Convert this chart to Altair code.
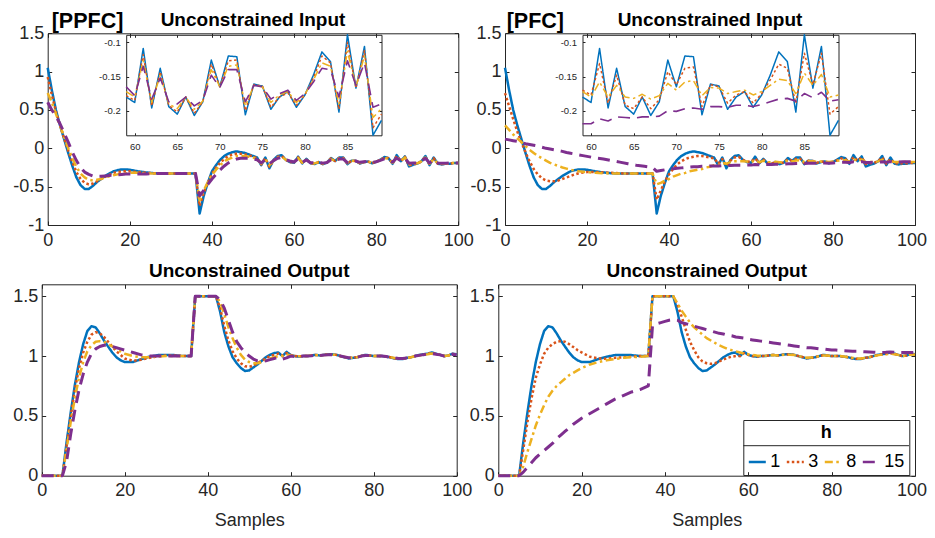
import altair as alt
import pandas as pd

# ---------------- data ----------------
# sample positions shared by every series
X = list(range(0, 21)) + list(range(22, 37, 2)) + list(range(37, 101))
H_LABELS = ["1", "3", "8", "15"]
COLORS = ["#0072BD", "#D95319", "#EDB120", "#7E2F8E"]
DASHES = [[1, 0], [2.5, 2.5], [8, 3.5, 2.5, 3.5], [12, 7]]

X_TICKS = [0, 20, 40, 60, 80, 100]
Y_TICKS_IN = [-1, -0.5, 0, 0.5, 1, 1.5]
Y_TICKS_OUT = [0, 0.5, 1, 1.5]
INSET_X_TICKS = [60, 65, 70, 75, 80, 85]
INSET_Y_TICKS = [-0.2, -0.15, -0.1]

# ---- Unconstrained input ----
IN_H1 = [1.05, 0.76, 0.5, 0.3, 0.12, -0.06, -0.23, -0.38, -0.48, -0.53, -0.53, -0.49, -0.44, -0.4, -0.36, -0.33, -0.3, -0.285, -0.275, -0.275, -0.28,
         -0.3, -0.315, -0.325, -0.33, -0.33, -0.33, -0.33, -0.33,
         -0.85, -0.62, -0.45, -0.3, -0.22, -0.15, -0.1, -0.07, -0.05, -0.04, -0.05, -0.06, -0.08, -0.1, -0.12, -0.22, -0.12, -0.26, -0.15, -0.1, -0.09, -0.15,
         -0.18, -0.188, -0.109, -0.196, -0.138, -0.194, -0.205, -0.18, -0.207, -0.187, -0.126, -0.165, -0.12, -0.121, -0.206, -0.161, -0.164, -0.198, -0.18, -0.172,
         -0.195, -0.177, -0.148, -0.114, -0.128, -0.202, -0.089, -0.167, -0.106, -0.236, -0.214,
         -0.2, -0.17, -0.1, -0.22, -0.12, -0.2, -0.21, -0.2, -0.2, -0.19, -0.19]

PPFC_IN_H3 = [0.93, 0.7, 0.48, 0.3, 0.13, -0.03, -0.18, -0.31, -0.4, -0.45, -0.47, -0.46, -0.43, -0.4, -0.37, -0.345, -0.32, -0.31, -0.3, -0.3, -0.3,
              -0.31, -0.32, -0.325, -0.33, -0.33, -0.33, -0.33, -0.33,
              -0.75, -0.58, -0.45, -0.33, -0.25, -0.19, -0.14, -0.1, -0.08, -0.07, -0.07, -0.08, -0.09, -0.11, -0.13, -0.21, -0.13, -0.24, -0.16, -0.11, -0.1, -0.15,
              -0.178, -0.185, -0.118, -0.193, -0.143, -0.192, -0.202, -0.18, -0.204, -0.187, -0.132, -0.165, -0.127, -0.126, -0.2, -0.162, -0.164, -0.195, -0.18, -0.174,
              -0.192, -0.177, -0.152, -0.12, -0.13, -0.198, -0.1, -0.167, -0.112, -0.225, -0.205,
              -0.2, -0.17, -0.11, -0.21, -0.13, -0.2, -0.205, -0.2, -0.2, -0.19, -0.19]

PPFC_IN_H8 = [0.72, 0.6, 0.45, 0.3, 0.15, 0.0, -0.13, -0.24, -0.33, -0.38, -0.41, -0.42, -0.41, -0.4, -0.38, -0.365, -0.35, -0.34, -0.33, -0.325, -0.32,
              -0.32, -0.325, -0.33, -0.33, -0.33, -0.33, -0.33, -0.33,
              -0.68, -0.55, -0.44, -0.35, -0.28, -0.22, -0.17, -0.14, -0.12, -0.1, -0.1, -0.1, -0.11, -0.12, -0.14, -0.2, -0.14, -0.22, -0.16, -0.12, -0.11, -0.15,
              -0.172, -0.18, -0.127, -0.188, -0.148, -0.19, -0.197, -0.18, -0.198, -0.186, -0.14, -0.165, -0.135, -0.133, -0.193, -0.163, -0.165, -0.188, -0.177, -0.172,
              -0.188, -0.176, -0.155, -0.13, -0.135, -0.19, -0.113, -0.165, -0.12, -0.21, -0.197,
              -0.195, -0.17, -0.12, -0.2, -0.14, -0.195, -0.2, -0.2, -0.195, -0.19, -0.19]

PPFC_IN_H15 = [0.6, 0.5, 0.42, 0.32, 0.2, 0.08, -0.05, -0.16, -0.25, -0.31, -0.34, -0.36, -0.365, -0.365, -0.36, -0.355, -0.35, -0.345, -0.34, -0.335, -0.335,
               -0.335, -0.335, -0.33, -0.33, -0.33, -0.33, -0.33, -0.33,
               -0.62, -0.55, -0.47, -0.4, -0.34, -0.28, -0.23, -0.19, -0.16, -0.14, -0.13, -0.13, -0.13, -0.14, -0.15, -0.19, -0.15, -0.2, -0.16, -0.13, -0.12, -0.15,
               -0.165, -0.178, -0.135, -0.183, -0.152, -0.187, -0.19, -0.18, -0.193, -0.185, -0.148, -0.166, -0.14, -0.14, -0.187, -0.163, -0.165, -0.183, -0.175, -0.17,
               -0.185, -0.175, -0.158, -0.138, -0.14, -0.18, -0.127, -0.163, -0.13, -0.195, -0.19,
               -0.19, -0.17, -0.13, -0.19, -0.15, -0.19, -0.195, -0.195, -0.19, -0.19, -0.19]

PFC_IN_H3 = [0.72, 0.55, 0.38, 0.22, 0.08, -0.05, -0.17, -0.27, -0.34, -0.39, -0.42, -0.43, -0.43, -0.42, -0.4, -0.38, -0.36, -0.34, -0.325, -0.315, -0.31,
             -0.31, -0.315, -0.32, -0.325, -0.33, -0.33, -0.33, -0.33,
             -0.67, -0.55, -0.43, -0.34, -0.27, -0.21, -0.17, -0.14, -0.12, -0.11, -0.1, -0.1, -0.11, -0.12, -0.13, -0.2, -0.14, -0.23, -0.16, -0.12, -0.11, -0.15,
             -0.17, -0.177, -0.131, -0.189, -0.148, -0.192, -0.197, -0.18, -0.197, -0.184, -0.143, -0.162, -0.138, -0.136, -0.194, -0.162, -0.165, -0.189, -0.177, -0.172,
             -0.189, -0.175, -0.155, -0.132, -0.138, -0.189, -0.116, -0.162, -0.116, -0.205, -0.194,
             -0.19, -0.17, -0.12, -0.2, -0.14, -0.195, -0.2, -0.195, -0.195, -0.19, -0.19]

PFC_IN_H8 = [0.3, 0.24, 0.18, 0.13, 0.08, 0.03, -0.02, -0.06, -0.1, -0.13, -0.16, -0.19, -0.21, -0.23, -0.25, -0.265, -0.28, -0.29, -0.3, -0.305, -0.31,
             -0.32, -0.325, -0.33, -0.33, -0.33, -0.33, -0.33, -0.33,
             -0.47, -0.45, -0.42, -0.4, -0.37, -0.35, -0.33, -0.32, -0.3, -0.29, -0.28, -0.27, -0.25, -0.24, -0.22, -0.22, -0.19, -0.2, -0.18, -0.17, -0.17, -0.17,
             -0.172, -0.18, -0.158, -0.18, -0.163, -0.18, -0.182, -0.176, -0.183, -0.178, -0.16, -0.17, -0.158, -0.156, -0.178, -0.166, -0.167, -0.175, -0.172, -0.17,
             -0.177, -0.172, -0.163, -0.154, -0.156, -0.175, -0.145, -0.163, -0.147, -0.18, -0.177,
             -0.18, -0.17, -0.15, -0.18, -0.16, -0.18, -0.18, -0.18, -0.18, -0.18, -0.18]

PFC_IN_H15 = [0.12, 0.11, 0.1, 0.09, 0.075, 0.06, 0.05, 0.04, 0.03, 0.015, 0.0, -0.01, -0.02, -0.03, -0.04, -0.055, -0.065, -0.075, -0.085, -0.095, -0.105,
              -0.125, -0.14, -0.16, -0.18, -0.2, -0.22, -0.235, -0.25,
              -0.3, -0.29, -0.28, -0.27, -0.265, -0.26, -0.255, -0.25, -0.245, -0.24, -0.24, -0.235, -0.235, -0.23, -0.23, -0.23, -0.225, -0.225, -0.225, -0.22, -0.22, -0.22,
              -0.219, -0.219, -0.212, -0.215, -0.209, -0.21, -0.211, -0.209, -0.209, -0.208, -0.2, -0.201, -0.197, -0.196, -0.198, -0.194, -0.194, -0.195, -0.192, -0.192,
              -0.194, -0.191, -0.187, -0.183, -0.182, -0.186, -0.175, -0.181, -0.173, -0.186, -0.184,
              -0.183, -0.18, -0.175, -0.18, -0.176, -0.178, -0.177, -0.176, -0.175, -0.174, -0.173]

# ---- Unconstrained output ----
OUT_H1 = [0, 0, 0, 0, 0, 0, 0.28, 0.53, 0.76, 0.95, 1.1, 1.21, 1.25, 1.24, 1.19, 1.13, 1.08, 1.03, 0.99, 0.965, 0.95,
          0.95, 0.975, 0.995, 1.008, 1.01, 1.008, 1.0, 1.0,
          1.5, 1.5, 1.5, 1.5, 1.5, 1.5, 1.37, 1.2, 1.08, 0.99, 0.94, 0.9, 0.875, 0.88, 0.905, 0.93, 0.96, 0.99, 1.01, 1.025, 1.03, 1.0,
          1.035, 1.01, 1.0, 0.995, 1.0, 1.0, 1.005, 1.01, 1.005, 1.01, 1.015, 1.015, 1.01, 1.0, 0.99, 0.98, 0.985, 0.99, 1.0, 1.01,
          1.005, 1.0, 1.0, 1.0, 0.995, 0.99, 0.98, 0.975, 0.975, 0.985, 0.99,
          1.0, 1.01, 1.015, 1.02, 1.03, 1.02, 1.01, 1.0, 1.005, 1.02, 1.015]

PPFC_OUT_H3 = [0, 0, 0, 0, 0, 0, 0.25, 0.5, 0.72, 0.9, 1.03, 1.12, 1.18, 1.2, 1.19, 1.16, 1.12, 1.08, 1.04, 1.01, 0.98,
               0.96, 0.97, 0.985, 1.0, 1.005, 1.005, 1.0, 1.0,
               1.5, 1.5, 1.5, 1.5, 1.5, 1.5, 1.4, 1.25, 1.13, 1.04, 0.98, 0.94, 0.915, 0.91, 0.92, 0.94, 0.96, 0.98, 1.0, 1.01, 1.02, 1.005,
               1.025, 1.01, 1.0, 0.997, 1.0, 1.0, 1.005, 1.01, 1.005, 1.01, 1.013, 1.013, 1.01, 1.0, 0.992, 0.983, 0.986, 0.99, 1.0, 1.008,
               1.004, 1.0, 1.0, 1.0, 0.996, 0.99, 0.982, 0.977, 0.977, 0.985, 0.99,
               1.0, 1.008, 1.013, 1.018, 1.025, 1.018, 1.01, 1.0, 1.005, 1.017, 1.013]

PPFC_OUT_H8 = [0, 0, 0, 0, 0, 0, 0.22, 0.45, 0.65, 0.82, 0.95, 1.04, 1.09, 1.12, 1.125, 1.12, 1.1, 1.08, 1.06, 1.04, 1.02,
               1.0, 0.99, 0.99, 0.995, 1.0, 1.0, 1.0, 1.0,
               1.5, 1.5, 1.5, 1.5, 1.5, 1.5, 1.45, 1.35, 1.24, 1.15, 1.07, 1.01, 0.97, 0.95, 0.94, 0.94, 0.95, 0.965, 0.98, 0.99, 1.0, 1.0,
               1.015, 1.005, 1.0, 0.998, 1.0, 1.0, 1.004, 1.008, 1.005, 1.008, 1.012, 1.012, 1.01, 1.0, 0.993, 0.985, 0.987, 0.99, 1.0, 1.006,
               1.004, 1.0, 1.0, 1.0, 0.996, 0.99, 0.984, 0.98, 0.978, 0.985, 0.99,
               1.0, 1.007, 1.012, 1.016, 1.022, 1.016, 1.01, 1.0, 1.005, 1.015, 1.012]

PPFC_OUT_H15 = [0, 0, 0, 0, 0, 0, 0.12, 0.35, 0.55, 0.72, 0.85, 0.95, 1.02, 1.06, 1.08, 1.09, 1.09, 1.08, 1.07, 1.06, 1.05,
                1.03, 1.01, 1.0, 1.0, 1.0, 1.0, 1.0, 1.0,
                1.5, 1.5, 1.5, 1.5, 1.5, 1.5, 1.47, 1.4, 1.3, 1.2, 1.12, 1.07, 1.03, 1.0, 0.975, 0.96, 0.955, 0.96, 0.97, 0.98, 0.99, 0.975,
                0.985, 1.0, 0.997, 0.995, 1.0, 1.0, 1.003, 1.007, 1.005, 1.008, 1.012, 1.012, 1.01, 1.0, 0.993, 0.986, 0.988, 0.99, 1.0, 1.005,
                1.004, 1.0, 1.0, 1.0, 0.996, 0.99, 0.985, 0.98, 0.98, 0.985, 0.99,
                1.0, 1.006, 1.012, 1.016, 1.02, 1.016, 1.01, 1.0, 1.005, 1.015, 1.012]

PFC_OUT_H3 = [0, 0, 0, 0, 0, 0, 0.22, 0.45, 0.65, 0.82, 0.93, 1.02, 1.07, 1.1, 1.12, 1.125, 1.12, 1.1, 1.075, 1.05, 1.03,
              0.995, 0.98, 0.978, 0.985, 0.99, 0.995, 1.0, 1.0,
              1.5, 1.5, 1.5, 1.5, 1.5, 1.5, 1.43, 1.33, 1.22, 1.12, 1.05, 0.99, 0.955, 0.94, 0.935, 0.94, 0.955, 0.97, 0.985, 0.995, 1.0, 1.0,
              1.025, 1.01, 1.0, 0.997, 1.0, 1.0, 1.005, 1.01, 1.005, 1.01, 1.013, 1.013, 1.01, 1.0, 0.992, 0.983, 0.986, 0.99, 1.0, 1.008,
              1.004, 1.0, 1.0, 1.0, 0.996, 0.99, 0.982, 0.977, 0.977, 0.985, 0.99,
              1.0, 1.008, 1.013, 1.018, 1.025, 1.018, 1.01, 1.0, 1.005, 1.017, 1.013]

PFC_OUT_H8 = [0, 0, 0, 0, 0, 0, 0.08, 0.2, 0.31, 0.42, 0.51, 0.59, 0.66, 0.71, 0.75, 0.78, 0.81, 0.84, 0.86, 0.88, 0.9,
              0.93, 0.95, 0.965, 0.975, 0.985, 0.99, 0.995, 1.0,
              1.5, 1.5, 1.5, 1.5, 1.5, 1.5, 1.44, 1.38, 1.33, 1.28, 1.24, 1.21, 1.18, 1.15, 1.13, 1.11, 1.09, 1.075, 1.06, 1.05, 1.04, 1.03,
              1.02, 1.015, 1.01, 1.005, 1.003, 1.003, 1.005, 1.008, 1.005, 1.008, 1.012, 1.012, 1.01, 1.0, 0.993, 0.986, 0.988, 0.99, 1.0, 1.005,
              1.004, 1.0, 1.0, 1.0, 0.996, 0.99, 0.985, 0.98, 0.98, 0.985, 0.99,
              1.0, 1.006, 1.012, 1.016, 1.02, 1.016, 1.01, 1.0, 1.005, 1.015, 1.012]

PFC_OUT_H15 = [0, 0, 0, 0, 0, 0, 0.03, 0.07, 0.11, 0.15, 0.18, 0.21, 0.24, 0.27, 0.31, 0.34, 0.37, 0.4, 0.43, 0.455, 0.48,
               0.52, 0.56, 0.6, 0.64, 0.67, 0.7, 0.72, 0.75,
               1.25, 1.27, 1.28, 1.29, 1.3, 1.305, 1.3, 1.28, 1.27, 1.26, 1.25, 1.24, 1.23, 1.22, 1.21, 1.2, 1.19, 1.185, 1.175, 1.17, 1.16, 1.155,
               1.15, 1.14, 1.135, 1.13, 1.125, 1.12, 1.115, 1.11, 1.105, 1.1, 1.095, 1.09, 1.085, 1.08, 1.075, 1.07, 1.07, 1.065, 1.06, 1.06,
               1.055, 1.05, 1.05, 1.047, 1.045, 1.043, 1.04, 1.04, 1.038, 1.036, 1.034,
               1.032, 1.03, 1.03, 1.032, 1.035, 1.033, 1.03, 1.03, 1.03, 1.03, 1.03]

# ---------------- styling / layout ----------------
FONT = "Liberation Sans"
AX = "#262626"
W, H = 919, 522

COLOR_SCALE = alt.Scale(domain=H_LABELS, range=COLORS)
DASH_SCALE = alt.Scale(domain=H_LABELS, range=DASHES)
LEGEND = alt.Legend(
    orient="none", legendX=735.3, legendY=412, direction="horizontal", gridAlign="none",
    title="h", titleAnchor="middle", titleFont=FONT, titleFontSize=18, titleFontWeight="bold",
    titleColor="#000000", titlePadding=10, labelFont=FONT, labelFontSize=18, labelColor="#000000",
    symbolType="stroke", symbolSize=289, symbolStrokeWidth=2.5, labelOffset=3, columnPadding=0,
    padding=4, strokeColor=AX,
)


def tidy(series, lo, hi):
    rows = []
    for h, vals in zip(H_LABELS, series):
        assert len(vals) == len(X), (h, len(vals))
        for x, v in zip(X, vals):
            if lo <= x <= hi:
                rows.append({"x": x, "v": v, "h": h})
    return pd.DataFrame(rows)


def panel_layers(series, xdom, ydom, xr, yr, xticks, yticks, fs, tick, xpad, ypad,
                 widths, lo=0, hi=100, xtitle=None, last_right=False):
    df = tidy(series, lo, hi)
    xs = alt.Scale(domain=xdom, range=xr, nice=False, zero=False)
    ys = alt.Scale(domain=ydom, range=yr, nice=False, zero=False)
    xl, xrt = xr
    yb, yt = yr
    out = []
    for h, w in zip(H_LABELS, widths):
        out.append(
            alt.Chart(df[df.h == h]).mark_line(strokeWidth=w, strokeCap="butt", strokeJoin="round").encode(
                x=alt.X("x:Q", scale=xs, axis=None),
                y=alt.Y("v:Q", scale=ys, axis=None),
                color=alt.Color("h:N", scale=COLOR_SCALE, legend=LEGEND, title="h"),
                strokeDash=alt.StrokeDash("h:N", scale=DASH_SCALE, legend=LEGEND, title="h"),
            )
        )
    base = alt.Chart(df).mark_point(opacity=0)
    lab = dict(labelFont=FONT, labelFontSize=fs, labelColor=AX, grid=False, domainColor=AX,
               domainWidth=1, labelExpr="'' + datum.value", labelOverlap=False, labelFlush=False)
    label_vals = xticks[:-1] if last_right else xticks
    xa = dict(orient="bottom", offset=yb - H, values=label_vals, ticks=False, tickSize=0,
              labelPadding=xpad, labelAngle=0, **lab)
    if xtitle:
        xa.update(title=xtitle, titleFont=FONT, titleFontSize=18, titleFontWeight="normal",
                  titleColor=AX, titleBaseline="alphabetic", titleY=49.5)
    else:
        xa.update(title=None)
    out.append(base.encode(
        x=alt.X("x:Q", scale=xs, axis=alt.Axis(**xa)),
        y=alt.Y("v:Q", scale=ys, axis=alt.Axis(orient="left", offset=-xl, values=yticks, ticks=False,
                                                   tickSize=0, labelPadding=ypad, title=None, **lab)),
    ))
    if last_right:
        # last label kept inside the page edge
        out.append(base.encode(
            x=alt.X("x:Q", scale=xs, axis=alt.Axis(orient="bottom", offset=yb - H, values=xticks[-1:],
                                                       ticks=False, tickSize=0, domain=False, title=None,
                                                       labelPadding=xpad, labelFlush=True,
                                                       labelFlushOffset=11.5,
                                                       labelFont=FONT, labelFontSize=fs, labelColor=AX,
                                                       grid=False, labelExpr="'' + datum.value",
                                                       labelOverlap=False)),
            y=alt.Y("v:Q", scale=ys, axis=None),
        ))
    nolab = dict(grid=False, labels=False, title=None, tickColor=AX, tickWidth=1,
                 domainColor=AX, domainWidth=1, tickSize=tick)
    out.append(base.encode(
        x=alt.X("x:Q", scale=xs, axis=alt.Axis(orient="top", offset=-yb, values=xticks, domain=False, **nolab)),
        y=alt.Y("v:Q", scale=ys, axis=alt.Axis(orient="right", offset=xl - W, values=yticks, domain=False, **nolab)),
    ))
    out.append(base.encode(
        x=alt.X("x:Q", scale=xs, axis=alt.Axis(orient="bottom", offset=yt - H, values=xticks, **nolab)),
        y=alt.Y("v:Q", scale=ys, axis=alt.Axis(orient="left", offset=-xrt, values=yticks, **nolab)),
    ))
    return out


MAIN_W = [2.5, 2.5, 2.5, 3]
INSET_W = [1.5, 1.5, 1.5, 1.6]

layers = []
# top-left: PPFC input
layers += panel_layers([IN_H1, PPFC_IN_H3, PPFC_IN_H8, PPFC_IN_H15], [0, 100], [-1, 1.5],
                       [39.7, 450.3], [217, 25.3], X_TICKS, Y_TICKS_IN, 18, 4, 6, 4, MAIN_W)
# top-right: PFC input
layers += panel_layers([IN_H1, PFC_IN_H3, PFC_IN_H8, PFC_IN_H15], [0, 100], [-1, 1.5],
                       [497, 907], [217, 25.3], X_TICKS, Y_TICKS_IN, 18, 4, 6, 4, MAIN_W,
                       last_right=True)
# bottom-left: PPFC output
layers += panel_layers([OUT_H1, PPFC_OUT_H3, PPFC_OUT_H8, PPFC_OUT_H15], [0, 100], [0, 1.6],
                       [33.7, 448.7], [467.7, 276.3], X_TICKS, Y_TICKS_OUT, 18, 4, 6, 4, MAIN_W,
                       xtitle="Samples")
# bottom-right: PFC output
layers += panel_layers([OUT_H1, PFC_OUT_H3, PFC_OUT_H8, PFC_OUT_H15], [0, 100], [0, 1.6],
                       [490.3, 907], [467.7, 276.3], X_TICKS, Y_TICKS_OUT, 18, 4, 6, 4, MAIN_W,
                       xtitle="Samples", last_right=True)
# insets
layers += panel_layers([IN_H1, PPFC_IN_H3, PPFC_IN_H8, PPFC_IN_H15], [59, 89], [-0.236, -0.089],
                       [118.2, 373.5], [127.3, 26.8], INSET_X_TICKS, INSET_Y_TICKS, 9.5, 2.5, 6, 6,
                       INSET_W, lo=59, hi=89)
layers += panel_layers([IN_H1, PFC_IN_H3, PFC_IN_H8, PFC_IN_H15], [59, 89], [-0.236, -0.089],
                       [574.5, 830.5], [127.3, 26.8], INSET_X_TICKS, INSET_Y_TICKS, 9.5, 2.5, 6, 6,
                       INSET_W, lo=59, hi=89)


def text_layer(txt, x, y, size, weight="bold", align="center"):
    return alt.Chart(pd.DataFrame({"t": [txt]})).mark_text(
        font=FONT, fontSize=size, fontWeight=weight, color="#000000", align=align, baseline="alphabetic"
    ).encode(text="t:N", x=alt.value(x), y=alt.value(y))


layers += [
    text_layer("[PPFC]", 43.7, 19.5, 21.5, align="left"),
    text_layer("[PFC]", 498.7, 19.5, 21.5, align="left"),
    text_layer("Unconstrained Input", 245, 17.5, 19),
    text_layer("Unconstrained Input", 702, 17.5, 19),
    text_layer("Unconstrained Output", 241.2, 268.5, 19),
    text_layer("Unconstrained Output", 698.7, 268.5, 19),
]

# divider line under the legend title
layers.append(
    alt.Chart(pd.DataFrame({"a": [0]})).mark_rule(color=AX, strokeWidth=1).encode(
        x=alt.value(735.3), x2=alt.value(901), y=alt.value(437.7)
    )
)

chart = (
    alt.layer(*layers)
    .resolve_scale(x="independent", y="independent")
    .properties(width=W, height=H, padding=0, background="white",
                autosize=alt.AutoSizeParams(type="none"))
    .configure(font=FONT)
    .configure_view(stroke=None)
)

chart.save("out.html", embed_options={"renderer": "svg", "actions": False})
